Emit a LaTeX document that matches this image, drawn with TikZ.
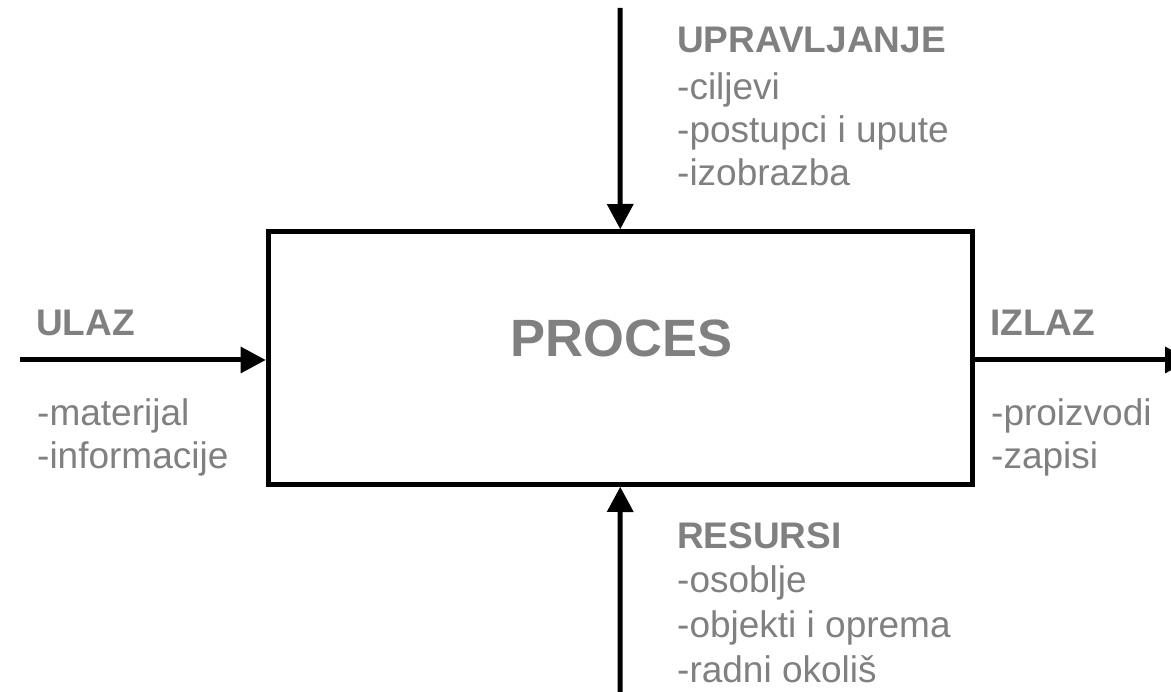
\documentclass[tikz,border=0pt]{standalone}
\usepackage{fontspec}
\setmainfont{Liberation Sans}
\usetikzlibrary{arrows.meta}
\definecolor{labelgray}{RGB}{128,128,128}
\tikzset{
  procbox/.style={draw=black, line width=5pt, minimum width=704.5pt, minimum height=253pt, inner sep=0pt},
  flow/.style={line width=5pt, -{Triangle[length=25pt, width=27pt, line width=0pt]}},
  head/.style={anchor=base west, inner sep=0pt, text=labelgray, font=\fontsize{37}{44}\selectfont\bfseries},
  item/.style={anchor=base west, inner sep=0pt, text=labelgray, font=\fontsize{37}{44}\selectfont},
  title/.style={anchor=base, inner sep=0pt, text=labelgray, font=\fontsize{52.5}{60}\selectfont\bfseries}
}
\begin{document}
\begin{tikzpicture}[x=1pt, y=-1pt]
  \useasboundingbox (0,0) rectangle (1171,692);

  % process box
  \node[procbox] (proc) at (620.25,358) {};
  \node[title] (proctitle) at (621.5,357) {PROCES};

  % free ends of the four flows
  \coordinate (ctrl) at (620,8);
  \coordinate (res) at (620,700);
  \coordinate (in) at (20,360);
  \coordinate (out) at (1190,360);

  \draw[flow] (ctrl) -- (proc.north);
  \draw[flow] (res) -- (proc.south);
  \draw[flow] (in) -- (in -| proc.west);
  \draw[flow] (out -| proc.east) -- (out);

  % control
  \node[head] (upr) at (677,53) {UPRAVLJANJE};
  \node[item] (upr1) at (677,100) {-ciljevi};
  \node[item] (upr2) at (677,143) {-postupci i upute};
  \node[item] (upr3) at (677,186) {-izobrazba};

  % resources
  \node[head] (resh) at (677,548) {RESURSI};
  \node[item] (res1) at (677,592) {-osoblje};
  \node[item] (res2) at (677,637) {-objekti i oprema};
  \node[item] (res3) at (677,682) {-radni okoliš};

  % input
  \node[head] (inh) at (36,336) {ULAZ};
  \node[item] (in1) at (37,426) {-materijal};
  \node[item] (in2) at (37,469) {-informacije};

  % output
  \node[head] (outh) at (990,336) {IZLAZ};
  \node[item] (out1) at (991,426) {-proizvodi};
  \node[item] (out2) at (991,469) {-zapisi};
\end{tikzpicture}
\end{document}
